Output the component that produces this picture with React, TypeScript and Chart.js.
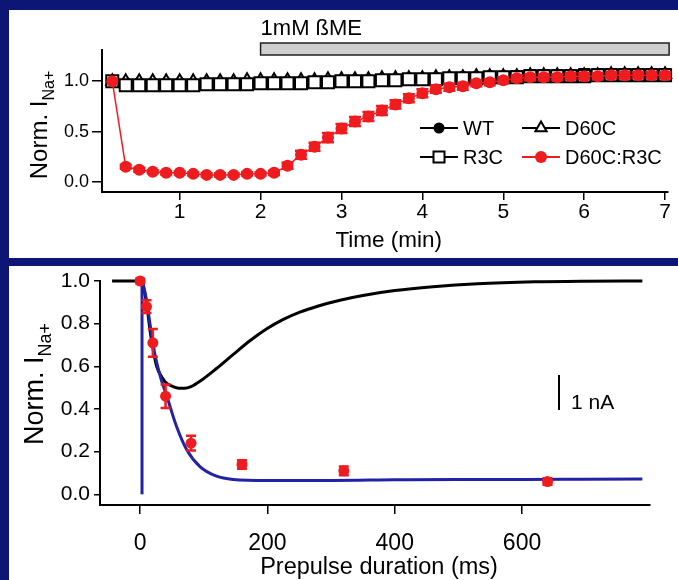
import { useEffect, useRef } from "react";
import { Chart, registerables } from "chart.js";

Chart.register(...registerables);

const FONT = "'Liberation Sans', Arial, Helvetica, sans-serif";
const NAVY = "#0d1674";
const RED = "#ee1b1f";
const BLUE = "#2222a6";

// ---------- Panel A : time course ----------
const timeMin = [0.167, 0.333, 0.5, 0.667, 0.833, 1.0, 1.167, 1.333, 1.5, 1.667, 1.833, 2.0, 2.167, 2.333, 2.5, 2.667, 2.833, 3.0, 3.167, 3.333, 3.5, 3.667, 3.833, 4.0, 4.167, 4.333, 4.5, 4.667, 4.833, 5.0, 5.167, 5.333, 5.5, 5.667, 5.833, 6.0, 6.167, 6.333, 6.5, 6.667, 6.833, 7.0];
const wtValues = [1.0, 0.99, 0.99, 0.99, 0.99, 0.99, 0.99, 0.99, 0.99, 0.99, 0.99, 1.0, 1.0, 1.0, 1.0, 1.0, 1.01, 1.01, 1.01, 1.02, 1.02, 1.02, 1.03, 1.03, 1.04, 1.04, 1.05, 1.05, 1.06, 1.06, 1.06, 1.07, 1.07, 1.07, 1.07, 1.08, 1.08, 1.08, 1.08, 1.08, 1.08, 1.08];
const wtErrors = [0, 0.02, 0.02, 0.02, 0.02, 0.02, 0.02, 0.02, 0.02, 0.02, 0.02, 0.02, 0.02, 0.02, 0.02, 0.02, 0.02, 0.02, 0.02, 0.02, 0.02, 0.02, 0.02, 0.02, 0.03, 0.03, 0.03, 0.03, 0.03, 0.03, 0.04, 0.04, 0.04, 0.04, 0.04, 0.04, 0.04, 0.04, 0.04, 0.04, 0.04, 0.04];
const r3cValues = [1.0, 0.96, 0.96, 0.96, 0.96, 0.96, 0.96, 0.97, 0.97, 0.97, 0.97, 0.98, 0.98, 0.98, 0.98, 0.99, 0.99, 1.0, 1.0, 1.0, 1.01, 1.01, 1.02, 1.02, 1.02, 1.03, 1.03, 1.03, 1.04, 1.04, 1.04, 1.05, 1.05, 1.05, 1.05, 1.05, 1.06, 1.06, 1.06, 1.06, 1.06, 1.06];
const r3cErrors = [0, 0.015, 0.015, 0.015, 0.015, 0.015, 0.015, 0.015, 0.015, 0.015, 0.015, 0.015, 0.015, 0.015, 0.015, 0.015, 0.015, 0.015, 0.015, 0.015, 0.015, 0.015, 0.015, 0.015, 0.015, 0.015, 0.015, 0.015, 0.015, 0.015, 0.03, 0.03, 0.03, 0.03, 0.03, 0.03, 0.03, 0.03, 0.03, 0.03, 0.03, 0.03];
const d60cValues = [1.0, 1.0, 1.0, 1.0, 1.0, 1.0, 1.0, 1.0, 1.0, 1.0, 1.01, 1.01, 1.01, 1.01, 1.01, 1.01, 1.02, 1.02, 1.02, 1.02, 1.03, 1.03, 1.03, 1.03, 1.04, 1.04, 1.04, 1.05, 1.05, 1.05, 1.05, 1.06, 1.06, 1.06, 1.06, 1.06, 1.06, 1.07, 1.07, 1.07, 1.07, 1.07];
const d60cErrors = [0, 0.015, 0.015, 0.015, 0.015, 0.015, 0.015, 0.015, 0.015, 0.015, 0.015, 0.015, 0.015, 0.015, 0.015, 0.015, 0.015, 0.015, 0.015, 0.015, 0.015, 0.015, 0.015, 0.015, 0.015, 0.015, 0.015, 0.015, 0.015, 0.015, 0.03, 0.03, 0.03, 0.03, 0.03, 0.03, 0.03, 0.03, 0.03, 0.03, 0.03, 0.03];
const dcValues = [1.0, 0.15, 0.12, 0.1, 0.09, 0.09, 0.08, 0.07, 0.07, 0.07, 0.08, 0.08, 0.09, 0.16, 0.27, 0.35, 0.44, 0.53, 0.6, 0.65, 0.71, 0.77, 0.83, 0.88, 0.92, 0.94, 0.95, 0.98, 0.99, 1.01, 1.03, 1.04, 1.04, 1.04, 1.05, 1.05, 1.05, 1.06, 1.06, 1.06, 1.06, 1.06];
const dcErrors = [0, 0.02, 0.02, 0.015, 0.015, 0.015, 0.015, 0.015, 0.015, 0.015, 0.015, 0.015, 0.02, 0.03, 0.04, 0.04, 0.045, 0.045, 0.045, 0.045, 0.045, 0.04, 0.04, 0.04, 0.035, 0.035, 0.035, 0.03, 0.03, 0.03, 0.03, 0.03, 0.03, 0.03, 0.03, 0.03, 0.03, 0.03, 0.03, 0.03, 0.03, 0.03];
const timeTicks = [1, 2, 3, 4, 5, 6, 7];
const normTicksA = [0, 0.5, 1.0];
const bmeStart = 2;
const bmeEnd = 7.05;
const legendLabels = ["WT", "R3C", "D60C", "D60C:R3C"];

// ---------- Panel B : prepulse ----------
const prepulseMs = [0, 10, 20, 40, 80, 160, 320, 640];
const prepulseValues = [1.0, 0.88, 0.71, 0.46, 0.24, 0.14, 0.11, 0.06];
const prepulseErrors = [0.01, 0.03, 0.065, 0.055, 0.035, 0.02, 0.02, 0.015];
const blackFitMs = [-44, 0, 3, 6, 10, 16, 21, 26, 34, 42, 52, 62, 70, 80, 94, 120, 146, 173, 199, 225, 251, 280, 314, 350, 400, 460, 530, 620, 700, 789];
const blackFitValues = [1.0, 1.0, 1.0, 0.96, 0.9, 0.76, 0.67, 0.6, 0.55, 0.52, 0.505, 0.497, 0.497, 0.505, 0.53, 0.59, 0.655, 0.721, 0.776, 0.82, 0.854, 0.883, 0.91, 0.932, 0.955, 0.973, 0.987, 0.996, 0.999, 1.0];
const blueFitMs = [3, 6, 10, 16, 23, 32, 42, 57, 73, 94, 120, 146, 200, 300, 400, 500, 600, 700, 789];
const blueFitValues = [1.0, 0.97, 0.91, 0.79, 0.66, 0.55, 0.46, 0.32, 0.21, 0.13, 0.085, 0.07, 0.065, 0.065, 0.068, 0.07, 0.07, 0.071, 0.072];
const blueStepMs = [3, 3];
const blueStepValues = [0, 1.0];
const prepulseTicks = [0, 200, 400, 600];
const normTicksB = [0, 0.2, 0.4, 0.6, 0.8, 1.0];

const xy = (xs: number[], ys: number[]) => xs.map((x, i) => ({ x, y: ys[i] }));

const errorBars = {
  id: "errorBars",
  beforeDatasetDraw(chart: any, args: any) {
    const ds = chart.data.datasets[args.index];
    if (!ds.errors) return;
    const ys = chart.scales.y;
    const ctx = chart.ctx;
    ctx.save();
    ctx.strokeStyle = ds.errorColor;
    ctx.lineWidth = ds.errorWidth;
    args.meta.data.forEach((pt: any, i: number) => {
      const e = ds.errors[i];
      if (!e) return;
      const v = ds.data[i].y;
      const x = pt.x;
      const y1 = ys.getPixelForValue(v + e);
      const y2 = ys.getPixelForValue(v - e);
      const c = ds.capHalf;
      ctx.beginPath();
      ctx.moveTo(x, y1);
      ctx.lineTo(x, y2);
      ctx.moveTo(x - c, y1);
      ctx.lineTo(x + c, y1);
      ctx.moveTo(x - c, y2);
      ctx.lineTo(x + c, y2);
      ctx.stroke();
    });
    ctx.restore();
  },
};

function drawYTitle(ctx: CanvasRenderingContext2D, x: number, y: number, main: string, sub: string, size: number, subSize: number) {
  ctx.save();
  ctx.translate(x, y);
  ctx.rotate(-Math.PI / 2);
  ctx.fillStyle = "#000";
  ctx.textAlign = "left";
  ctx.textBaseline = "alphabetic";
  ctx.font = `${size}px ${FONT}`;
  const wm = ctx.measureText(main).width;
  ctx.font = `${subSize}px ${FONT}`;
  const ws = ctx.measureText(sub).width;
  const start = -(wm + ws) / 2;
  ctx.font = `${size}px ${FONT}`;
  ctx.fillText(main, start, 0);
  ctx.font = `${subSize}px ${FONT}`;
  ctx.fillText(sub, start + wm, size * 0.3);
  ctx.restore();
}

function marker(ctx: CanvasRenderingContext2D, kind: string, x: number, y: number) {
  ctx.save();
  ctx.lineWidth = 2;
  ctx.strokeStyle = "#000";
  ctx.beginPath();
  if (kind === "WT") {
    ctx.fillStyle = "#000";
    ctx.arc(x, y, 5.5, 0, Math.PI * 2);
    ctx.fill();
  } else if (kind === "R3C") {
    ctx.fillStyle = "#fff";
    ctx.rect(x - 5.5, y - 5.5, 11, 11);
    ctx.fill();
    ctx.stroke();
  } else if (kind === "D60C") {
    ctx.fillStyle = "#fff";
    ctx.moveTo(x, y - 6.5);
    ctx.lineTo(x + 5.6, y + 3.3);
    ctx.lineTo(x - 5.6, y + 3.3);
    ctx.closePath();
    ctx.fill();
    ctx.stroke();
  } else {
    ctx.fillStyle = RED;
    ctx.arc(x, y, 6, 0, Math.PI * 2);
    ctx.fill();
  }
  ctx.restore();
}

const decorA = {
  id: "decorA",
  afterDraw(chart: any) {
    const ctx: CanvasRenderingContext2D = chart.ctx;
    const xs = chart.scales.x;
    const area = chart.chartArea;
    const bx1 = xs.getPixelForValue(bmeStart);
    const bx2 = xs.getPixelForValue(bmeEnd);
    ctx.save();
    ctx.fillStyle = "#cfcfcf";
    ctx.strokeStyle = "#222";
    ctx.lineWidth = 1.5;
    ctx.fillRect(bx1, 33, bx2 - bx1, 12);
    ctx.strokeRect(bx1, 33, bx2 - bx1, 12);
    ctx.fillStyle = "#000";
    ctx.font = `22px ${FONT}`;
    ctx.textAlign = "left";
    ctx.textBaseline = "alphabetic";
    ctx.fillText("1mM ßME", bx1, 25);
    ctx.textAlign = "center";
    ctx.textBaseline = "middle";
    ctx.font = `22.5px ${FONT}`;
    ctx.fillText("Time (min)", (area.left + area.right) / 2 + 4, 231);
    const rows = [
      [legendLabels[0], 411, 118],
      [legendLabels[2], 513, 118],
      [legendLabels[1], 411, 147],
      [legendLabels[3], 513, 147],
    ] as [string, number, number][];
    rows.forEach(([lab, x, y]) => {
      ctx.strokeStyle = lab === "D60C:R3C" ? RED : "#000";
      ctx.lineWidth = 2;
      ctx.beginPath();
      ctx.moveTo(x, y);
      ctx.lineTo(x + 38, y);
      ctx.stroke();
      marker(ctx, lab, x + 19, y);
      ctx.fillStyle = "#000";
      ctx.font = `20px ${FONT}`;
      ctx.textAlign = "left";
      ctx.textBaseline = "middle";
      ctx.fillText(lab, x + 43, y + 1);
    });
    ctx.restore();
    drawYTitle(ctx, 38, 115, "Norm. I", "Na+", 24, 16);
  },
};

const decorB = {
  id: "decorB",
  afterDraw(chart: any) {
    const ctx: CanvasRenderingContext2D = chart.ctx;
    const area = chart.chartArea;
    ctx.save();
    ctx.fillStyle = "#000";
    ctx.textAlign = "center";
    ctx.textBaseline = "middle";
    ctx.font = `23.5px ${FONT}`;
    ctx.fillText("Prepulse duration (ms)", (area.left + area.right) / 2 + 4, 302);
    ctx.strokeStyle = "#000";
    ctx.lineWidth = 2;
    ctx.beginPath();
    ctx.moveTo(550, 109);
    ctx.lineTo(550, 144);
    ctx.stroke();
    ctx.font = `21px ${FONT}`;
    ctx.textAlign = "left";
    ctx.fillText("1 nA", 562, 137);
    ctx.restore();
    drawYTitle(ctx, 34, 118, "Norm. I", "Na+", 27, 18);
  },
};

function axisCommon(fontSize: number, tickLen: number, pad: number) {
  return {
    type: "linear" as const,
    grid: { display: true, drawOnChartArea: false, drawTicks: true, tickLength: tickLen, color: "#000", lineWidth: 1.5 },
    border: { display: true, color: "#000", width: 2 },
    ticks: { color: "#000", font: { family: FONT, size: fontSize }, padding: pad, autoSkip: false, maxRotation: 0 },
  };
}

function zeroPad(s: any) {
  s.paddingTop = 0;
  s.paddingBottom = 0;
  s.paddingLeft = 0;
  s.paddingRight = 0;
}

function TimeCourse() {
  const ref = useRef<HTMLCanvasElement>(null);
  useEffect(() => {
    const ptBase = { borderWidth: 1, tension: 0, clip: 10 as any };
    const chart = new Chart(ref.current!, {
      type: "line",
      data: {
        datasets: [
          {
            label: legendLabels[3], data: xy(timeMin, dcValues), order: 0, ...ptBase,
            borderColor: RED, borderWidth: 1.5, backgroundColor: RED, pointBackgroundColor: RED, pointBorderColor: RED,
            pointRadius: 6, pointBorderWidth: 0, pointStyle: "circle",
            errors: dcErrors, errorColor: RED, errorWidth: 2.5, capHalf: 6,
          } as any,
          {
            label: legendLabels[1], data: xy(timeMin, r3cValues), order: 1, ...ptBase,
            borderColor: "#000", pointBackgroundColor: "#fff", pointBorderColor: "#000",
            pointRadius: 8.5, pointBorderWidth: 2, pointStyle: "rect",
            errors: r3cErrors, errorColor: "#000", errorWidth: 1.5, capHalf: 5,
          } as any,
          {
            label: legendLabels[2], data: xy(timeMin, d60cValues), order: 2, ...ptBase,
            borderColor: "#000", pointBackgroundColor: "#fff", pointBorderColor: "#000",
            pointRadius: 7, pointBorderWidth: 2, pointStyle: "triangle",
            errors: d60cErrors, errorColor: "#000", errorWidth: 1.5, capHalf: 5,
          } as any,
          {
            label: legendLabels[0], data: xy(timeMin, wtValues), order: 3, ...ptBase,
            borderColor: "#000", pointBackgroundColor: "#000", pointBorderColor: "#000",
            pointRadius: 5.5, pointBorderWidth: 0, pointStyle: "circle",
            errors: wtErrors, errorColor: "#000", errorWidth: 2.5, capHalf: 6,
          } as any,
        ],
      },
      options: {
        responsive: false,
        maintainAspectRatio: false,
        devicePixelRatio: 1,
        animation: false,
        events: [],
        layout: { padding: { left: 0, right: 7, top: 40, bottom: 0 } },
        plugins: { legend: { display: false }, tooltip: { enabled: false } },
        scales: {
          x: {
            ...axisCommon(21, 8, 0),
            min: 0.04,
            max: 7.03,
            afterBuildTicks: (s: any) => { s.ticks = timeTicks.map((v) => ({ value: v })); },
            afterFit: (s: any) => { s.height = 66; zeroPad(s); },
            ticks: { ...axisCommon(21, 8, 0).ticks, callback: (v: any) => String(v) },
          } as any,
          y: {
            ...axisCommon(18, 10, 3),
            min: -0.1,
            max: 1.31,
            afterBuildTicks: (s: any) => { s.ticks = normTicksA.map((v) => ({ value: v })); },
            afterFit: (s: any) => { s.width = 93; zeroPad(s); },
            ticks: { ...axisCommon(18, 10, 3).ticks, callback: (v: any) => Number(v).toFixed(1) },
          } as any,
        },
      },
      plugins: [errorBars, decorA],
    });
    return () => chart.destroy();
  }, []);
  return <canvas ref={ref} width={669} height={248} style={{ display: "block" }} />;
}

function Prepulse() {
  const ref = useRef<HTMLCanvasElement>(null);
  useEffect(() => {
    const chart = new Chart(ref.current!, {
      type: "line",
      data: {
        datasets: [
          {
            label: "data", data: xy(prepulseMs, prepulseValues), order: 0, showLine: false, clip: 10,
            pointRadius: 5.5, pointBorderWidth: 0, pointBackgroundColor: RED, pointBorderColor: RED, pointStyle: "circle",
            errors: prepulseErrors, errorColor: RED, errorWidth: 2.5, capHalf: 5,
          } as any,
          {
            label: "blueFit", data: xy(blueFitMs, blueFitValues), order: 1, borderColor: BLUE, borderWidth: 3,
            pointRadius: 0, cubicInterpolationMode: "monotone", clip: 10,
          } as any,
          {
            label: "blueStep", data: xy(blueStepMs, blueStepValues), order: 1, borderColor: BLUE, borderWidth: 3,
            pointRadius: 0, tension: 0, clip: 10,
          } as any,
          {
            label: "blackFit", data: xy(blackFitMs, blackFitValues), order: 2, borderColor: "#000", borderWidth: 3,
            pointRadius: 0, cubicInterpolationMode: "monotone", clip: 10,
          } as any,
        ],
      },
      options: {
        responsive: false,
        maintainAspectRatio: false,
        devicePixelRatio: 1,
        animation: false,
        events: [],
        layout: { padding: { left: 0, right: 28, top: 15, bottom: 0 } },
        plugins: { legend: { display: false }, tooltip: { enabled: false } },
        scales: {
          x: {
            ...axisCommon(23, 9, 16),
            min: -63,
            max: 801,
            afterBuildTicks: (s: any) => { s.ticks = prepulseTicks.map((v) => ({ value: v })); },
            afterFit: (s: any) => { s.height = 75; zeroPad(s); },
            ticks: { ...axisCommon(23, 9, 16).ticks, callback: (v: any) => String(v) },
          } as any,
          y: {
            ...axisCommon(21, 6, 4),
            min: -0.05,
            max: 1.0,
            afterBuildTicks: (s: any) => { s.ticks = normTicksB.map((v) => ({ value: v })); },
            afterFit: (s: any) => { s.width = 91; zeroPad(s); },
            ticks: { ...axisCommon(21, 6, 4).ticks, callback: (v: any) => Number(v).toFixed(1) },
          } as any,
        },
      },
      plugins: [errorBars, decorB],
    });
    return () => chart.destroy();
  }, []);
  return <canvas ref={ref} width={669} height={314} style={{ display: "block" }} />;
}

export default function App() {
  return (
    <div style={{ position: "absolute", left: 0, top: 0, width: 678, height: 580, background: NAVY, overflow: "hidden" }}>
      <div style={{ position: "absolute", left: 9, top: 10, width: 669, height: 248, background: "#fff" }}>
        <TimeCourse />
      </div>
      <div style={{ position: "absolute", left: 9, top: 266, width: 669, height: 314, background: "#fff" }}>
        <Prepulse />
      </div>
    </div>
  );
}
